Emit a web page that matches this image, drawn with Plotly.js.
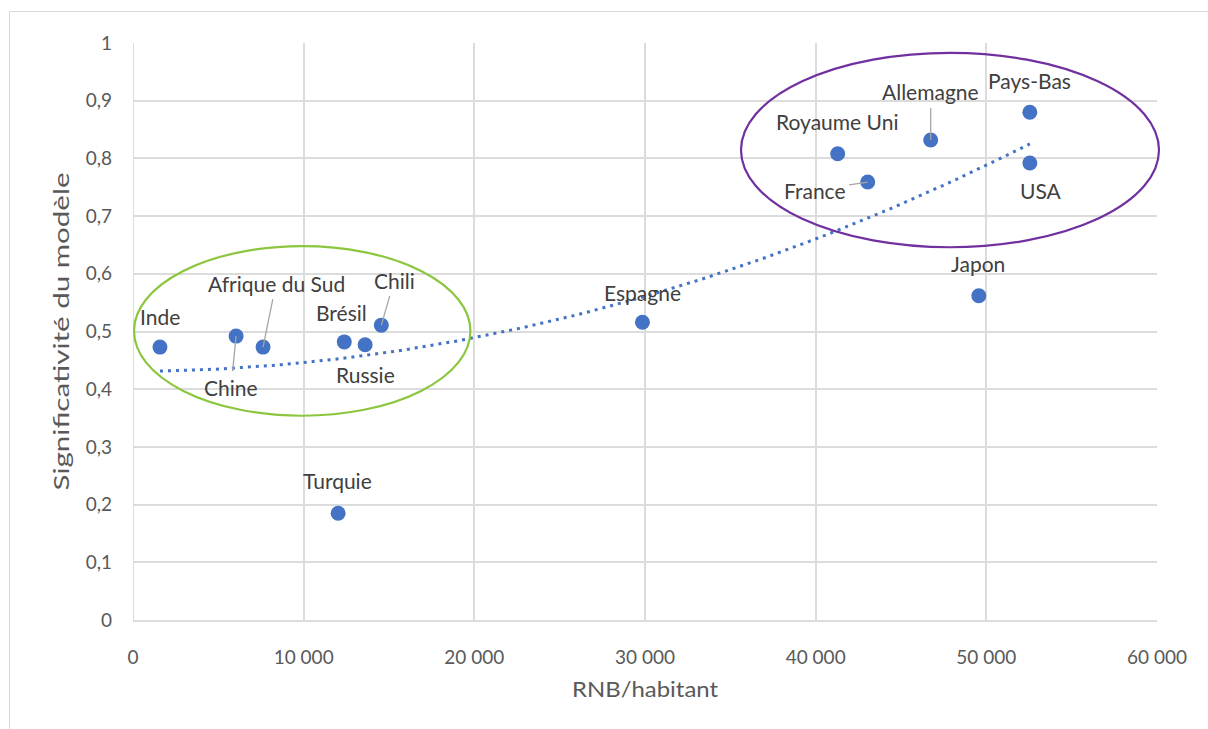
<!DOCTYPE html>
<html>
<head>
<meta charset="utf-8">
<script src="https://cdn.plot.ly/plotly-3.0.1.min.js"></script>
<style>
html,body{margin:0;padding:0;background:#fff;overflow:hidden;}
#chart{width:1208px;height:729px;}
</style>
</head>
<body>
<div id="chart"></div>
<script>
// Data
const countries = ["Inde","Chine","Afrique du Sud","Brésil","Russie","Chili","Turquie","Espagne","Royaume Uni","France","Allemagne","Pays-Bas","USA","Japon"];
const rnbHabitant = [1580, 6040, 7620, 12380, 13600, 14550, 12020, 29850, 41290, 43050, 46740, 52550, 52550, 49560];
const significativite = [0.473, 0.492, 0.473, 0.482, 0.477, 0.511, 0.185, 0.516, 0.808, 0.759, 0.832, 0.880, 0.792, 0.562];

// Label placement (pixel offsets of text relative to the point) and leader lines
const labelOffsets = {
  "Inde": {dx:0, dy:-31, leader:false},
  "Chine": {dx:-5, dy:51, leader:true},
  "Afrique du Sud": {dx:13, dy:-64, leader:true},
  "Brésil": {dx:-3, dy:-29, leader:false},
  "Russie": {dx:0, dy:30, leader:false},
  "Chili": {dx:13, dy:-45, leader:true},
  "Turquie": {dx:-1, dy:-33, leader:false},
  "Espagne": {dx:0, dy:-30, leader:false},
  "Royaume Uni": {dx:-1, dy:-32, leader:false},
  "France": {dx:-53, dy:8, leader:true},
  "Allemagne": {dx:0, dy:-48, leader:true},
  "Pays-Bas": {dx:0, dy:-32, leader:false},
  "USA": {dx:11, dy:27, leader:false},
  "Japon": {dx:-1, dy:-32, leader:false}
};

// Polynomial (order 2) least-squares trend line, as in the spreadsheet
function polyFit2(xs, ys) {
  const n = xs.length;
  let S = [0,0,0,0,0], T = [0,0,0];
  for (let i = 0; i < n; i++) {
    const t = xs[i] / 10000;
    for (let k = 0; k < 5; k++) S[k] += Math.pow(t, k);
    for (let k = 0; k < 3; k++) T[k] += ys[i] * Math.pow(t, k);
  }
  const A = [[S[0],S[1],S[2],T[0]],[S[1],S[2],S[3],T[1]],[S[2],S[3],S[4],T[2]]];
  for (let c = 0; c < 3; c++) {
    for (let r = c + 1; r < 3; r++) {
      const f = A[r][c] / A[c][c];
      for (let k = c; k < 4; k++) A[r][k] -= f * A[c][k];
    }
  }
  const coef = [0,0,0];
  for (let r = 2; r >= 0; r--) {
    let s = A[r][3];
    for (let k = r + 1; k < 3; k++) s -= A[r][k] * coef[k];
    coef[r] = s / A[r][r];
  }
  return coef;
}
const coef = polyFit2(rnbHabitant, significativite);
const xMin = Math.min(...rnbHabitant), xMax = Math.max(...rnbHabitant);
const trendX = [], trendY = [];
for (let i = 0; i <= 100; i++) {
  const x = xMin + (xMax - xMin) * i / 100;
  const t = x / 10000;
  trendX.push(x);
  trendY.push(coef[0] + coef[1] * t + coef[2] * t * t);
}

const FONT = "Lato, 'Open Sans', sans-serif";
const GRID = "#dcdcdc";

const traces = [
  {
    x: trendX, y: trendY, type: "scatter", mode: "lines",
    line: {color: "#4472C4", width: 3, dash: "3px,5px"},
    hoverinfo: "skip", showlegend: false
  },
  {
    x: rnbHabitant, y: significativite, text: countries,
    type: "scatter", mode: "markers",
    marker: {color: "#4472C4", size: 15},
    showlegend: false, cliponaxis: false
  }
];

const annotations = countries.map((c, i) => {
  const o = labelOffsets[c];
  const a = {
    x: rnbHabitant[i], y: significativite[i], xref: "x", yref: "y",
    text: c, font: {family: FONT, size: 21, color: "#404040"}
  };
  if (o.leader) {
    Object.assign(a, {showarrow: true, arrowhead: 0, arrowwidth: 1.3, arrowcolor: "#a6a6a6",
      ax: o.dx, ay: o.dy, standoff: 0, startstandoff: 2});
  } else {
    Object.assign(a, {showarrow: false, xshift: o.dx, yshift: -o.dy});
  }
  return a;
});

const layout = {
  width: 1208, height: 729,
  margin: {l: 133, r: 51, t: 43, b: 109},
  paper_bgcolor: "#ffffff", plot_bgcolor: "#ffffff",
  separators: ", ",
  showlegend: false,
  font: {family: FONT, color: "#595959"},
  xaxis: {
    range: [0, 60000], dtick: 10000, tick0: 0, tickformat: ",d",
    showgrid: true, gridcolor: GRID, gridwidth: 2,
    zeroline: false, showline: true, linecolor: GRID, linewidth: 2,
    ticks: "", ticklabelstandoff: 19,
    tickfont: {family: FONT, size: 19, color: "#595959"},
    title: {text: "RNB/habitant", font: {family: FONT, size: 21, color: "#595959"}, standoff: 16}
  },
  yaxis: {
    range: [0, 1], dtick: 0.1, tick0: 0,
    showgrid: true, gridcolor: GRID, gridwidth: 2,
    zeroline: false, showline: false,
    ticks: "", ticklabelstandoff: 20,
    tickfont: {family: FONT, size: 19, color: "#595959"},
    title: {text: "Significativité du modèle", font: {family: FONT, size: 21, color: "#595959"}, standoff: 10}
  },
  shapes: [
    {type: "line", xref: "x", yref: "paper", x0: 0, x1: 0, y0: 0, y1: 1,
     line: {color: GRID, width: 2}, layer: "below"},
    {type: "circle", xref: "x", yref: "y", x0: 60, x1: 19770, y0: 0.354, y1: 0.648,
     line: {color: "#8CC63F", width: 2.2}, fillcolor: "rgba(0,0,0,0)"},
    {type: "circle", xref: "paper", yref: "y", x0: (741-133)/1024, x1: (1159-133)/1024, y0: 0.646, y1: 0.983,
     line: {color: "#7030A0", width: 2.2}, fillcolor: "rgba(0,0,0,0)"},
    {type: "rect", xref: "paper", yref: "paper",
     x0: (9.5-133)/1024, x1: 1.2, y0: -0.3, y1: (620-11.5)/577,
     line: {color: "#d9d9d9", width: 1}, fillcolor: "rgba(0,0,0,0)"}
  ],
  annotations: annotations
};

Plotly.newPlot("chart", traces, layout, {displayModeBar: false, staticPlot: true}).then(function (gd) {
  // The reference titles are drawn with a narrow, stretched face: match their lengths
  const yt = gd.querySelector(".g-ytitle text");
  if (yt) { yt.setAttribute("textLength", "318"); yt.setAttribute("lengthAdjust", "spacingAndGlyphs"); }
  const xt = gd.querySelector(".g-xtitle text");
  if (xt) { xt.setAttribute("textLength", "146"); xt.setAttribute("lengthAdjust", "spacingAndGlyphs"); }
});
</script>
</body>
</html>
